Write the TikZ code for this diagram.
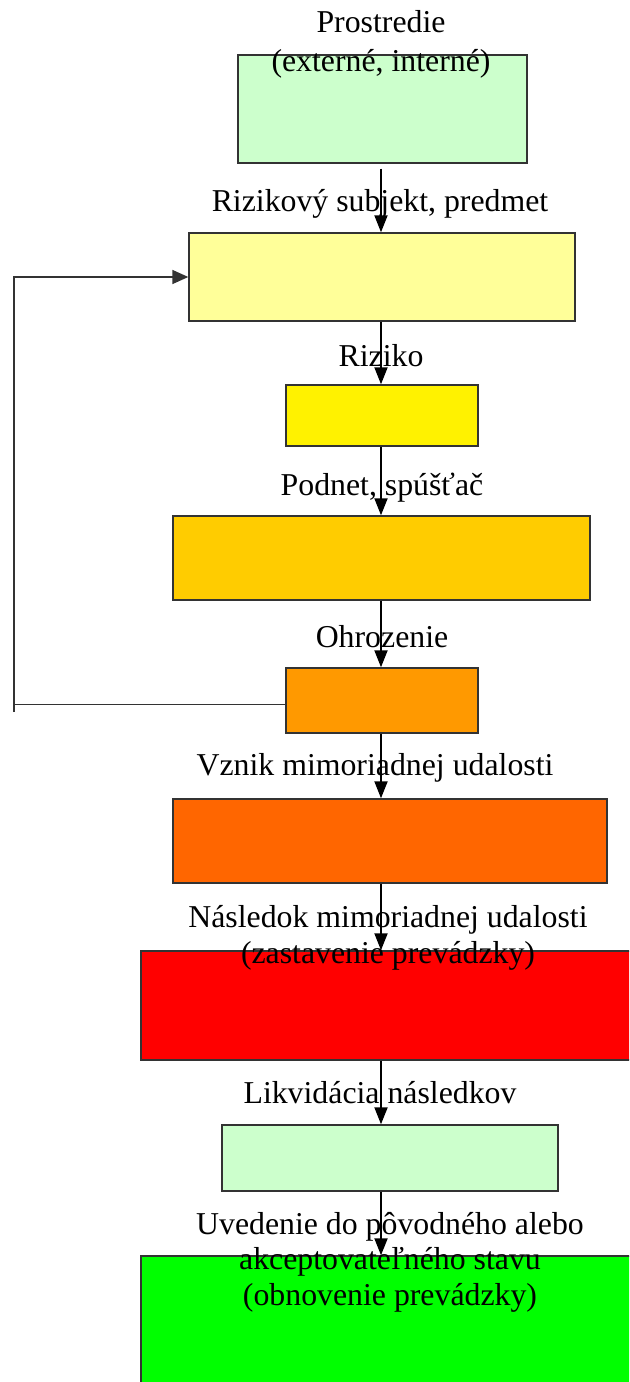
\documentclass[tikz,border=0pt]{standalone}
\usepackage{fontspec}
\setmainfont{Liberation Serif}
\usetikzlibrary{arrows.meta}
\definecolor{palegreen}{HTML}{CCFFCC}
\definecolor{paleyellow}{HTML}{FFFF99}
\definecolor{amberbox}{HTML}{FFCC00}
\definecolor{orangebox}{HTML}{FF9900}
\definecolor{darkorangebox}{HTML}{FF6600}
\begin{document}
\begin{tikzpicture}[x=0.02cm,y=-0.02cm,
  box/.style={draw=black!80,line width=0.8pt,inner sep=0pt},
  lbl/.style={anchor=base,align=center,inner sep=0pt,font=\fontsize{18.1pt}{20.2pt}\selectfont},
  flow/.style={line width=1.1pt,-{Triangle[length=0.34cm,width=0.26cm]}}]
\path[use as bounding box,clip] (0,0) rectangle (629,1382);

\coordinate (col) at (381,0);
\coordinate (fb) at (14,712);

\node[box,fill=palegreen,minimum width=5.78cm,minimum height=2.16cm] (prost) at (382.5,109) {};
\node[box,fill=paleyellow,minimum width=7.72cm,minimum height=1.76cm] (subj) at (382,277) {};
\node[box,fill=yellow,minimum width=3.84cm,minimum height=1.22cm] (riz) at (382,415.5) {};
\node[box,fill=amberbox,minimum width=8.34cm,minimum height=1.68cm] (podnet) at (381.5,558) {};
\node[box,fill=orangebox,minimum width=3.84cm,minimum height=1.30cm] (ohroz) at (382,700.5) {};
\node[box,fill=darkorangebox,minimum width=8.68cm,minimum height=1.68cm] (vznik) at (390,841) {};
\node[box,fill=red,minimum width=10.38cm,minimum height=2.18cm] (nasl) at (400.5,1005.5) {};
\node[box,fill=palegreen,minimum width=6.72cm,minimum height=1.32cm] (likv) at (390,1158) {};
\node[box,fill=green,minimum width=10.38cm,minimum height=3.28cm] (uved) at (400.5,1338) {};

\node[lbl] (tProst) at (381,72) {Prostredie\\[2pt](externé, interné)};
\node[lbl] (tSubj) at (380,212) {Rizikový subjekt, predmet};
\node[lbl] (tRiz) at (381,366) {Riziko};
\node[lbl] (tPodnet) at (382,495) {Podnet, spúšťač};
\node[lbl] (tOhroz) at (382,647) {Ohrozenie};
\node[lbl] (tVznik) at (375,775) {Vznik mimoriadnej udalosti};
\node[lbl] (tNasl) at (388,963) {Následok mimoriadnej udalosti\\(zastavenie prevádzky)};
\node[lbl] (tLikv) at (380,1103) {Likvidácia následkov};
\node[lbl] (tUved) at (390,1305) {Uvedenie do pôvodného alebo\\akceptovateľného stavu\\ (obnovenie prevádzky)};

\draw[flow] ([yshift=-0.1cm]prost.south -| col) -- (subj.north -| col);
\draw[flow] (subj.south -| col) -- (riz.north -| col);
\draw[flow] (riz.south -| col) -- (podnet.north -| col);
\draw[flow] (podnet.south -| col) -- (ohroz.north -| col);
\draw[flow] (ohroz.south -| col) -- (vznik.north -| col);
\draw[flow] (vznik.south -| col) -- (nasl.north -| col);
\draw[flow] (nasl.south -| col) -- (likv.north -| col);
\draw[flow] (likv.south -| col) -- (uved.north -| col);

\draw[line width=0.8pt,black!80] ([yshift=-0.08cm]ohroz.west) -- ([yshift=-0.08cm]ohroz.west -| fb);
\draw[line width=0.8pt,black!80,-{Triangle[length=0.32cm,width=0.28cm]}] (fb) |- (subj.west);
\end{tikzpicture}
\end{document}
